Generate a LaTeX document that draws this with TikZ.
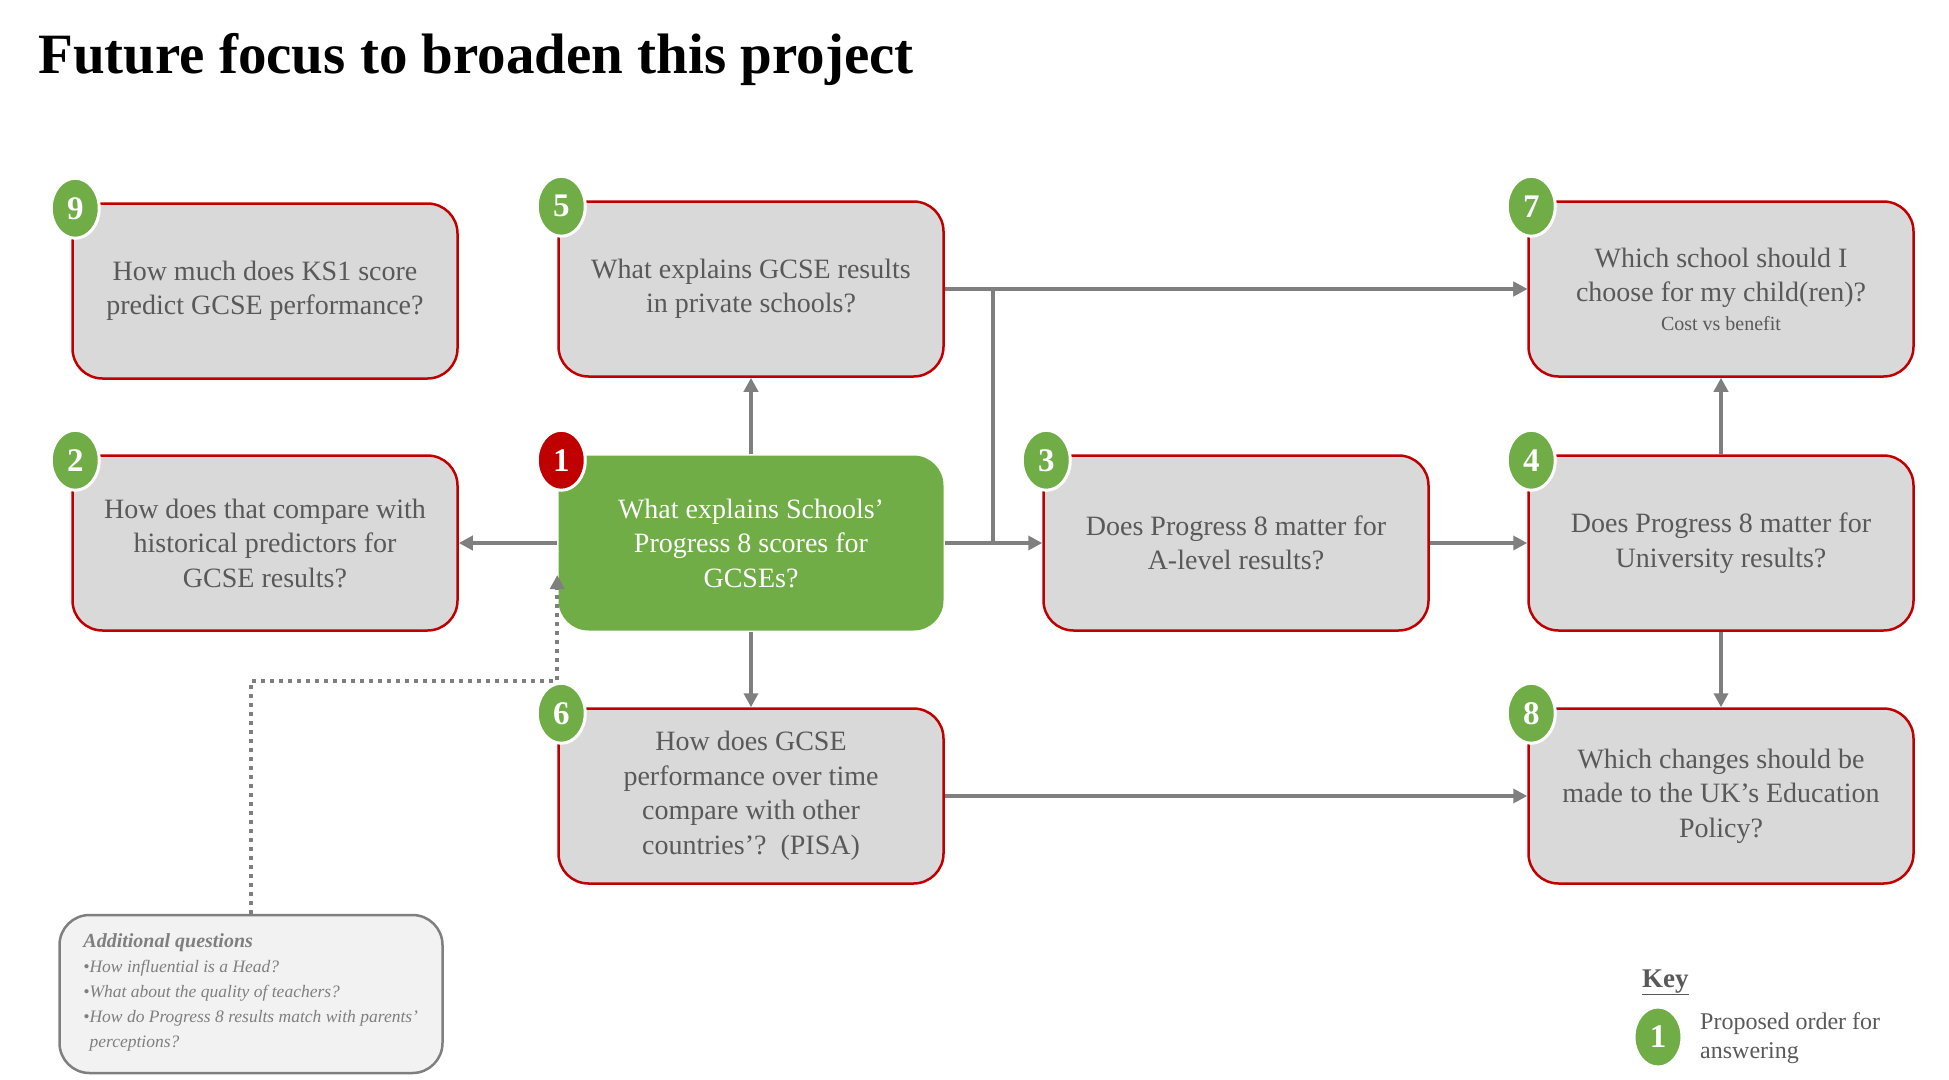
\documentclass[tikz,border=0pt]{standalone}
\usepackage{fontspec}
\setmainfont{Liberation Serif}
\usetikzlibrary{shapes.geometric, arrows.meta}
\definecolor{boxred}{HTML}{C00000}
\definecolor{boxgrey}{HTML}{D9D9D9}
\definecolor{textgrey}{HTML}{595959}
\definecolor{linegrey}{HTML}{7F7F7F}
\definecolor{leafgreen}{HTML}{70AD47}
\definecolor{notegrey}{HTML}{F2F2F2}

\begin{document}
\begin{tikzpicture}[x=1pt, y=1pt, >={Triangle[length=14pt,width=14pt]},
    question/.style={draw=boxred, line width=2.5pt, fill=boxgrey, rounded corners=30pt,
        minimum width=385pt, minimum height=175pt, inner sep=0pt, align=center,
        text=textgrey, font=\fontsize{28}{34.5}\selectfont},
    badge/.style={ellipse, fill=leafgreen, draw=white, line width=3pt, minimum width=48pt,
        minimum height=60pt, inner sep=0pt, text=white, font=\bfseries\fontsize{33}{36}\selectfont},
    link/.style={draw=linegrey, line width=4pt, ->},
    note/.style={draw=linegrey, line width=2.5pt, fill=notegrey, rounded corners=30pt,
        minimum width=383pt, minimum height=158pt}]
            \useasboundingbox (0,0) rectangle (1949,-1079);

            % title
            \node[anchor=base west, inner sep=0pt, font=\bfseries\fontsize{57}{68}\selectfont] (title) at (38,-73) {Future focus to broaden this project};

            % the questions
            \node[question] (q9) at (265,-291) {How much does KS1 score\\predict GCSE performance?};
            \node[question] (q5) at (751,-289) {What explains GCSE results\\in private schools?};
            \node[question] (q7) at (1721,-289) {Which school should I\\choose for my child(ren)?\\[-6pt]{\fontsize{20}{24}\selectfont Cost vs benefit}};
            \node[question] (q2) at (265,-543) {How does that compare with\\historical predictors for\\GCSE results?};
            \node[question, draw=none, fill=leafgreen, text=white] (q1) at (751,-543) {What explains Schools’\\Progress 8 scores for\\GCSEs?};
            \node[question] (q3) at (1236,-543) {Does Progress 8 matter for\\A-level results?};
            \node[question] (q4) at (1721,-543) {Does Progress 8 matter for\\University results?};
            \node[question] (q6) at (751,-796) {How does GCSE\\performance over time\\compare with other\\countries’?\ \ (PISA)};
            \node[question] (q8) at (1721,-796) {Which changes should be\\made to the UK’s Education\\Policy?};

            % the links
            \draw[link] (q1.north) -- (q5.south);
            \draw[link] (q1.west) -- (q2.east);
            \draw[link] (q1.south) -- (q6.north);
            \draw[link] (q1.east) -- (q3.west);
            \draw[link] (q1.east) -- ++(48,0) |- (q7.west);
            \draw[link] (q5.east) -- (q7.west);
            \draw[link] (q3.east) -- (q4.west);
            \draw[link] (q4.north) -- (q7.south);
            \draw[link] (q4.south) -- (q8.north);
            \draw[link] (q6.east) -- (q8.west);

            % the order badges
            \foreach \q/\num in {q9/9, q5/5, q7/7, q2/2, q3/3, q4/4, q6/6, q8/8}
                \node[badge] (b\num) at ([xshift=4pt,yshift=-6pt]\q.north west) {\num};
            \node[badge, fill=boxred] (b1) at ([xshift=4pt,yshift=-6pt]q1.north west) {1};

            % additional questions
            \node[note] (extra) at (251,-994) {};
            \node[anchor=west, inner sep=0pt, align=left, text=linegrey, font=\itshape\fontsize{17.5}{25}\selectfont] (extratext) at ([xshift=25pt,yshift=2pt]extra.west)
                {{\bfseries\fontsize{20}{25}\selectfont Additional questions}\\
                \textbullet How influential is a Head?\\
                \textbullet What about the quality of teachers?\\
                \textbullet How do Progress 8 results match with parents’\\
                \phantom{\textbullet}perceptions?};
            \coordinate (dotturn) at ([yshift=-49pt]q1.south west);
            \coordinate (dotend) at ([yshift=-32pt]q1.west);
            \draw[link, dash pattern=on 4pt off 5pt] (extra.north) |- (dotturn) -- (dotend);

            % key
            \node[anchor=base west, inner sep=0pt, text=textgrey, font=\bfseries\fontsize{27}{32}\selectfont] (keyhead) at (1642,-987) {\underline{Key}};
            \node[badge] (bkey) at (1658,-1037) {1};
            \node[anchor=west, inner sep=0pt, align=left, text=textgrey, font=\fontsize{24}{29}\selectfont] (keytext) at (1700,-1038) {Proposed order for\\answering};

        \end{tikzpicture}
\end{document}
